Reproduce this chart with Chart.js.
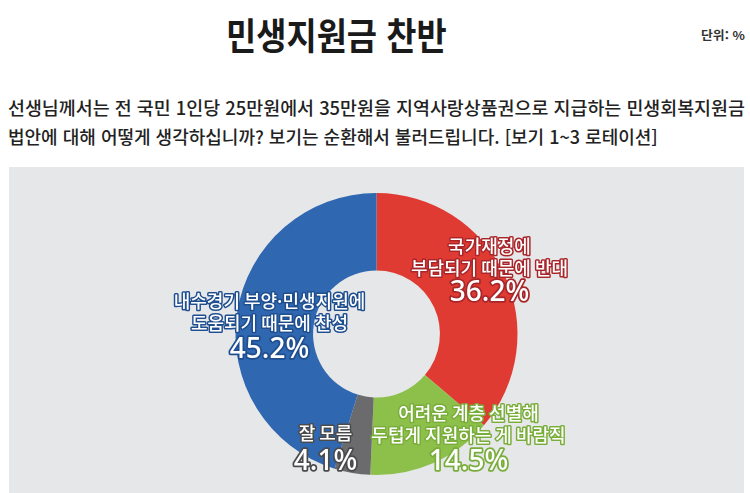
<!DOCTYPE html>
<html lang="ko">
<head>
<meta charset="utf-8">
<script src="https://cdn.jsdelivr.net/npm/chart.js@4.4.1/dist/chart.umd.min.js"></script>
<style>
  html, body { margin: 0; padding: 0; background: #fff; }
  body { width: 750px; height: 493px; position: relative; overflow: hidden;
         font-family: "Noto Sans CJK KR", "Noto Sans", sans-serif; color: #1e1e1e; }
  .fit { position: absolute; white-space: nowrap; transform-origin: 0 50%; line-height: 1; }
  #title { font-size: 37px; font-weight: 700; top: 16px; left: 226px; color: #1a1a1a; }
  #unit { font-size: 12px; font-weight: 700; top: 29px; left: 701px; color: #333; }
  #q1 { font-size: 18px; font-weight: 500; top: 98px; left: 8px; color: #222; }
  #q2 { font-size: 18px; font-weight: 500; top: 127px; left: 8px; color: #222; }
  #panel { position: absolute; left: 9px; top: 167px; width: 735px; height: 326px; background: #e6e7e9; }
  #panel canvas { position: absolute; left: 0; top: 0; }
</style>
</head>
<body>
<div id="title" class="fit" data-w="221">민생지원금 찬반</div>
<div id="unit" class="fit" data-w="44">단위: %</div>
<div id="q1" class="fit" data-w="737">선생님께서는 전 국민 1인당 25만원에서 35만원을 지역사랑상품권으로 지급하는 민생회복지원금</div>
<div id="q2" class="fit" data-w="650">법안에 대해 어떻게 생각하십니까? 보기는 순환해서 불러드립니다. [보기 1~3 로테이션]</div>
<div id="panel"><canvas id="c" width="735" height="326"></canvas></div>
<script>
// ---- data ----
const categories = [
  ["국가재정에", "부담되기 때문에 반대"],
  ["어려운 계층 선별해", "두텁게 지원하는 게 바람직"],
  ["잘 모름"],
  ["내수경기 부양·민생지원에", "도움되기 때문에 찬성"]
];
const values = [36.2, 14.5, 4.1, 45.2];
const percentLabels = ["36.2%", "14.5%", "4.1%", "45.2%"];

// ---- styles ----
const sliceColors = ["#e03b32", "#8cc04b", "#6b6b6d", "#2f67b1"];
const strokeColors = ["#a8262a", "#79ad3a", "#4a4a4c", "#1f4e8f"];
// label anchor offsets relative to doughnut centre (px at radius 141)
const labelOffsets = [[113, -88], [92, 79], [-51, 99], [-107, -33]];
const pctGap = [25, 27, 29, 27];

document.querySelectorAll('.fit').forEach(el => {
  const target = +el.dataset.w;
  const w = el.scrollWidth;
  el.style.transform = 'scaleX(' + (target / w) + ')';
});

const labelPlugin = {
  id: 'sliceLabels',
  afterDatasetsDraw(chart) {
    const ctx = chart.ctx;
    const meta = chart.getDatasetMeta(0);
    const a0 = meta.data[0];
    const cx = a0.x, cy = a0.y, k = a0.outerRadius / 141;
    ctx.save();
    ctx.textAlign = 'center';
    ctx.textBaseline = 'middle';
    ctx.lineJoin = 'round';
    categories.forEach((lines, i) => {
      const x = cx + labelOffsets[i][0] * k;
      let y = cy + labelOffsets[i][1] * k;
      ctx.font = '500 18px "Noto Sans CJK KR", sans-serif';
      lines.forEach((t, j) => {
        const yy = y + j * 22;
        ctx.lineWidth = 3;
        ctx.strokeStyle = strokeColors[i];
        ctx.strokeText(t, x, yy);
        ctx.fillStyle = '#ffffff';
        ctx.fillText(t, x, yy);
      });
      const py = y + (lines.length - 1) * 22 + pctGap[i];
      ctx.font = '500 28px "Noto Sans", "Noto Sans CJK KR", sans-serif';
      ctx.lineWidth = 3.5;
      ctx.strokeStyle = strokeColors[i];
      ctx.strokeText(percentLabels[i], x, py);
      ctx.fillStyle = '#ffffff';
      ctx.fillText(percentLabels[i], x, py);
    });
    ctx.restore();
  }
};

new Chart(document.getElementById('c'), {
  type: 'doughnut',
  data: {
    labels: categories.map(l => l.join(' ')),
    datasets: [{
      data: values,
      backgroundColor: sliceColors,
      borderWidth: 0,
      hoverOffset: 0
    }]
  },
  options: {
    responsive: false,
    animation: false,
    devicePixelRatio: 1,
    cutout: '45%',
    rotation: 0,
    layout: { padding: { top: 26, bottom: 18, left: 0, right: 0 } },
    plugins: { legend: { display: false }, tooltip: { enabled: false } }
  },
  plugins: [labelPlugin]
});
</script>
</body>
</html>
